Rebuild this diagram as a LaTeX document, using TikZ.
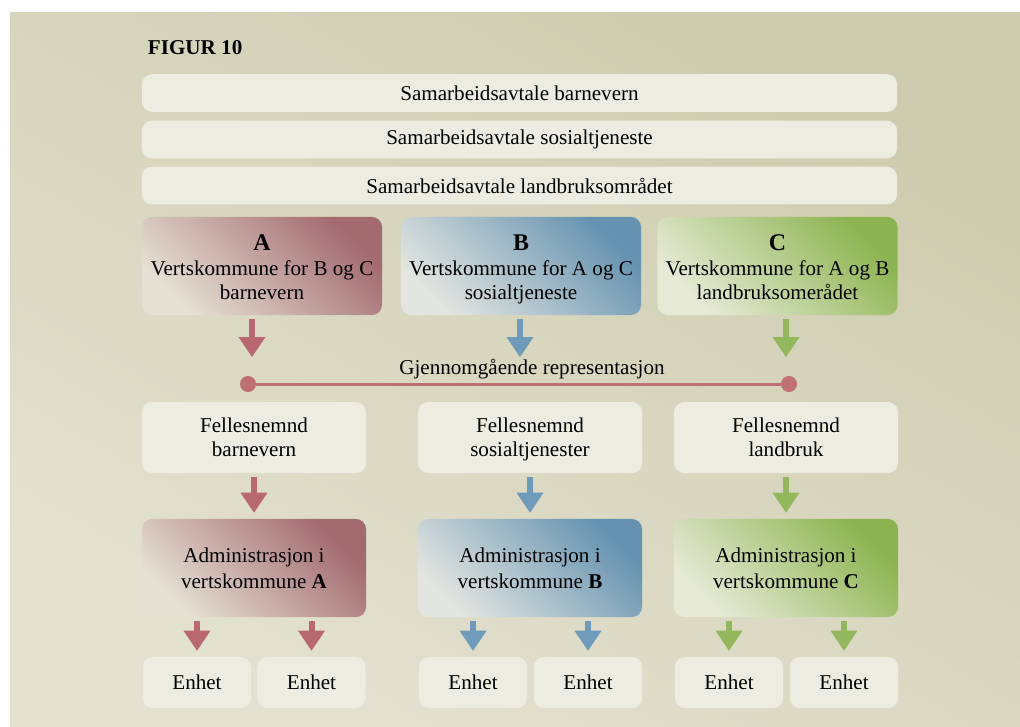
\documentclass[tikz,border=0pt]{standalone}
\usepackage{fontspec}
\setmainfont{Liberation Serif}
\usetikzlibrary{arrows.meta}

\definecolor{papir}{RGB}{237,236,224}
\definecolor{bgtop}{RGB}{206,204,174}
\definecolor{bgbot}{RGB}{227,225,208}
\definecolor{raud}{RGB}{163,106,112}
\definecolor{raudlys}{RGB}{229,224,211}
\definecolor{blaa}{RGB}{101,146,176}
\definecolor{blaalys}{RGB}{226,229,224}
\definecolor{gronn}{RGB}{140,180,80}
\definecolor{gronnlys}{RGB}{231,234,215}
\definecolor{raudpil}{RGB}{183,104,112}
\definecolor{blaapil}{RGB}{110,155,185}
\definecolor{gronnpil}{RGB}{146,183,92}
\definecolor{linjefarge}{RGB}{190,112,116}
\newcommand{\storbokstav}[1]{\rule{0pt}{18.5pt}{\fontsize{17}{19}\selectfont\bfseries #1}}
\newcommand{\toppline}[1]{\rule{0pt}{15pt}#1}

\begin{document}
\begin{tikzpicture}[x=0.025cm,y=-0.025cm,
    font=\fontsize{15}{18.5}\selectfont,
    lys/.style={fill=papir,rounded corners=0.25cm,align=center,inner sep=0pt},
    band/.style={lys,minimum width=18.875cm,minimum height=0.94cm},
    nemnd/.style={lys,minimum width=5.6cm,minimum height=1.775cm,font=\fontsize{15}{17}\selectfont},
    enhet/.style={lys,minimum width=2.7cm,minimum height=1.275cm},
    vert/.style n args={2}{rounded corners=0.25cm,align=center,inner sep=0pt,
      top color=#1,bottom color=#2,shading angle=-45},
    vertboks/.style 2 args={vert={#1}{#2},minimum width=6cm,minimum height=2.45cm,
      font=\fontsize{15}{17.5}\selectfont},
    admboks/.style 2 args={vert={#1}{#2},minimum width=5.6cm,minimum height=2.45cm},
    pil/.style={color=#1,line width=0.15cm,shorten <=0.1cm,shorten >=0.15cm,
      -{Triangle[width=0.675cm,length=0.5cm,line width=0pt]}}]

    \useasboundingbox (0,0) rectangle (1020,726);
    \shade[top color=bgtop,bottom color=bgbot,shading angle=-30] (10,12) rectangle (1020,726);

    \node[anchor=west,font=\fontsize{15}{17}\selectfont\bfseries] (tittel) at (143,48) {FIGUR 10};

    \node[band] (avtale1) at (519.5,93) {Samarbeidsavtale barnevern};
    \node[band] (avtale2) at (519.5,139.5) {Samarbeidsavtale sosialtjeneste};
    \node[band] (avtale3) at (519.5,185.5) {Samarbeidsavtale landbruksområdet};

    \node[vertboks={raud}{raudlys}] (vA) at (262,266)
      {\storbokstav{A}\\Vertskommune for B og C\\barnevern\strut};
    \node[vertboks={blaa}{blaalys}] (vB) at (521,266)
      {\storbokstav{B}\\Vertskommune for A og C\\sosialtjeneste\strut};
    \node[vertboks={gronn}{gronnlys}] (vC) at (777.5,266)
      {\storbokstav{C}\\Vertskommune for A og B\\landbruksomerådet\strut};

    \node[nemnd] (felA) at (254,437.5) {\toppline{Fellesnemnd}\\barnevern\strut};
    \node[nemnd] (felB) at (530,437.5) {\toppline{Fellesnemnd}\\sosialtjenester\strut};
    \node[nemnd] (felC) at (786,437.5) {\toppline{Fellesnemnd}\\landbruk\strut};

    \node[admboks={raud}{raudlys}] (admA) at (254,568) {Administrasjon i\\vertskommune \textbf{A}};
    \node[admboks={blaa}{blaalys}] (admB) at (530,568) {Administrasjon i\\vertskommune \textbf{B}};
    \node[admboks={gronn}{gronnlys}] (admC) at (786,568) {Administrasjon i\\vertskommune \textbf{C}};

    \node[enhet] (enhA1) at (197,682.5) {Enhet};
    \node[enhet] (enhA2) at (311.5,682.5) {Enhet};
    \node[enhet] (enhB1) at (473,682.5) {Enhet};
    \node[enhet] (enhB2) at (588,682.5) {Enhet};
    \node[enhet] (enhC1) at (729,682.5) {Enhet};
    \node[enhet] (enhC2) at (844,682.5) {Enhet};

    \coordinate (tipA) at (252,363);
    \coordinate (tipB) at (520,363);
    \coordinate (tipC) at (786,363);
    \coordinate (repL) at (240,384);
    \coordinate (repR) at (797,384);

    \node (rep) at (532,369) {Gjennomgående representasjon};
    \draw[color=linjefarge,line width=0.075cm,
      {Circle[length=0.4cm,line width=0pt]}-{Circle[length=0.4cm,line width=0pt]}] (repL) -- (repR);

    \path[pil=raudpil]
    (tipA |- vA.south) edge (tipA)
    (felA) edge (admA)
    (enhA1 |- admA.south) edge (enhA1)
    (enhA2 |- admA.south) edge (enhA2);
    \path[pil=blaapil]
    (tipB |- vB.south) edge (tipB)
    (felB) edge (admB)
    (enhB1 |- admB.south) edge (enhB1)
    (enhB2 |- admB.south) edge (enhB2);
    \path[pil=gronnpil]
    (tipC |- vC.south) edge (tipC)
    (felC) edge (admC)
    (enhC1 |- admC.south) edge (enhC1)
    (enhC2 |- admC.south) edge (enhC2);
\end{tikzpicture}
\end{document}
